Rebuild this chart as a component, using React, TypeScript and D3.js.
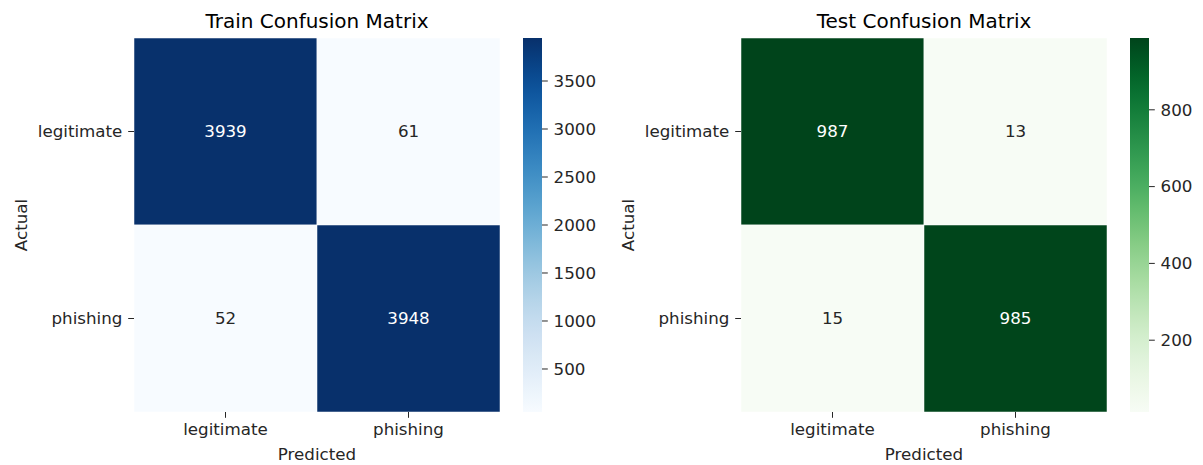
import React from "react";
import * as d3 from "d3";

const labels = ["legitimate", "phishing"];
const trainValues = [
  [3939, 61],
  [52, 3948],
];
const testValues = [
  [987, 13],
  [15, 985],
];
const trainTicks = [500, 1000, 1500, 2000, 2500, 3000, 3500];
const testTicks = [200, 400, 600, 800];

const FONT = "DejaVu Sans, sans-serif";
const FS = 16.7;

type PanelProps = {
  x0: number;
  title: string;
  values: number[][];
  ticks: number[];
  interp: (t: number) => string;
  gid: string;
};

function Panel({ x0, title, values, ticks, interp, gid }: PanelProps) {
  const top = 38;
  const size = 374;
  const w = 366;
  const flat = values.flat();
  const vmin = d3.min(flat)!;
  const vmax = d3.max(flat)!;
  const color = d3.scaleSequential(interp).domain([vmin, vmax]);
  const xs = d3.scaleBand<string>().domain(labels).range([x0, x0 + w]);
  const ys = d3.scaleBand<string>().domain(labels).range([top, top + size]);
  const cbX = x0 + w + 23;
  const cbW = 19;
  const cbScale = d3.scaleLinear().domain([vmin, vmax]).range([top + size, top]);
  const stops = d3.range(0, 1.0001, 0.05);
  const cx = x0 + w / 2;
  const tl = 5.8;
  return (
    <g>
      <defs>
        <linearGradient id={gid} x1="0" y1="1" x2="0" y2="0">
          {stops.map((t) => (
            <stop key={t} offset={t} stopColor={interp(t)} />
          ))}
        </linearGradient>
      </defs>
      <text x={cx} y={28} textAnchor="middle" fontSize={20} fill="#000" fontFamily={FONT}>
        {title}
      </text>
      {values.map((row, i) =>
        row.map((v, j) => {
          const lum = d3.hsl(color(v)).l;
          return (
            <g key={`${i}-${j}`}>
              <rect
                x={xs(labels[j])}
                y={ys(labels[i])}
                width={xs.bandwidth()}
                height={ys.bandwidth()}
                fill={color(v)}
                stroke="#fff"
                strokeWidth={0.5}
              />
              <text
                x={xs(labels[j])! + xs.bandwidth() / 2}
                y={ys(labels[i])! + ys.bandwidth() / 2}
                dy="0.35em"
                textAnchor="middle"
                fontSize={FS}
                fontFamily={FONT}
                fill={lum < 0.5 ? "#ffffff" : "#262626"}
              >
                {v}
              </text>
            </g>
          );
        })
      )}
      {labels.map((l) => {
        const yc = ys(l)! + ys.bandwidth() / 2;
        const xc = xs(l)! + xs.bandwidth() / 2;
        return (
          <g key={l}>
            <line x1={x0 - tl} x2={x0} y1={yc} y2={yc} stroke="#262626" strokeWidth={1} />
            <text x={x0 - 2 * tl} y={yc} dy="0.35em" textAnchor="end" fontSize={FS} fontFamily={FONT} fill="#262626">
              {l}
            </text>
            <line x1={xc} x2={xc} y1={top + size} y2={top + size + tl} stroke="#262626" strokeWidth={1} />
            <text x={xc} y={top + size + 23} textAnchor="middle" fontSize={FS} fontFamily={FONT} fill="#262626">
              {l}
            </text>
          </g>
        );
      })}
      <text x={cx} y={460} textAnchor="middle" fontSize={FS} fontFamily={FONT} fill="#262626">
        Predicted
      </text>
      <text
        transform={`translate(${x0 - 107},${top + size / 2}) rotate(-90)`}
        textAnchor="middle"
        fontSize={FS}
        fontFamily={FONT}
        fill="#262626"
      >
        Actual
      </text>
      <rect x={cbX} y={top} width={cbW} height={size} fill={`url(#${gid})`} />
      {ticks.map((t) => (
        <g key={t}>
          <line x1={cbX + cbW} x2={cbX + cbW + tl} y1={cbScale(t)} y2={cbScale(t)} stroke="#262626" strokeWidth={1} />
          <text x={cbX + cbW + 2 * tl} y={cbScale(t)} dy="0.35em" fontSize={FS} fontFamily={FONT} fill="#262626">
            {t}
          </text>
        </g>
      ))}
    </g>
  );
}

export default function App() {
  return (
    <div style={{ position: "absolute", left: 0, top: 0 }}>
      <svg width={1203} height={465} style={{ display: "block", background: "#fff" }}>
        <Panel x0={134} title="Train Confusion Matrix" values={trainValues} ticks={trainTicks} interp={d3.interpolateBlues} gid="gBlues" />
        <Panel x0={741} title="Test Confusion Matrix" values={testValues} ticks={testTicks} interp={d3.interpolateGreens} gid="gGreens" />
      </svg>
    </div>
  );
}
